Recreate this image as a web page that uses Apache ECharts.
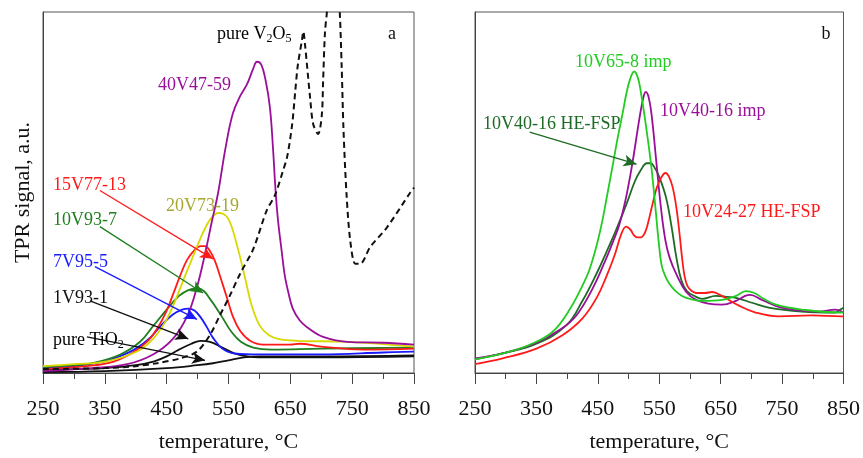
<!DOCTYPE html>
<html>
<head>
<meta charset="utf-8">
<script src="https://cdn.jsdelivr.net/npm/echarts@6/dist/echarts.min.js"></script>
<style>
html,body{margin:0;padding:0;background:#fff;}
#chart{width:863px;height:458px;}
</style>
</head>
<body>
<div id="chart"></div>
<script>
// ---- tick labels ----
const tickLabels = ['250', '350', '450', '550', '650', '750', '850'];

// ---- panel a (temperature °C, TPR signal a.u.) ----
const a_1V93_1 = [[250,3],[300,4],[350,5],[400,8],[430,12],[450,17],[470,24],[490,30],[505,33],[520,32],[540,26],[560,20],[580,17],[600,16],[700,16],[850,17]];
const a_TiO2 = [[250,1],[350,2],[450,5],[500,8],[525,10],[550,13],[575,16],[600,17],[700,17],[850,18]];
const a_7V95_5 = [[250,5],[300,7],[350,12],[370,16],[400,25],[423,36],[440,48],[460,60],[475,65],[485,66],[495,64],[505,57],[515,47],[525,36],[540,25],[560,20],[600,19],[700,19],[800,21],[850,22]];
const a_10V93_7 = [[250,6],[300,8],[330,10],[375,19],[407,32],[428,48],[450,65],[470,79],[485,85],[500,87],[510,84],[520,76],[530,67],[540,57],[555,42],[570,32],[590,26],[620,24],[700,25],[850,26]];
const a_15V77_13 = [[250,4],[300,6],[355,10],[390,19],[418,32],[436,47],[450,64],[460,80],[472,100],[483,116],[495,126],[505,130],[512,130],[520,125],[528,115],[536,100],[548,76],[557,58],[569,43],[585,33],[606,29],[650,29],[665,30],[700,27],[768,24],[850,25]];
const a_20V73_19 = [[250,7],[300,9],[353,12],[402,22],[428,35],[450,55],[465,76],[480,100],[493,120],[504,137],[515,152],[525,161],[533,164],[542,163],[552,155],[565,128],[577,97],[588,68],[601,48],[615,39],[630,35],[661,33],[742,32],[850,27]];
const a_40V47_59 = [[250,2],[330,5],[386,9],[428,19],[460,35],[483,58],[499,88],[512,122],[523,155],[533,184],[545,230],[557,266],[569,284],[580,296],[590,312],[596,319],[603,316],[610,300],[617,272],[622,230],[626,188],[630,157],[636,125],[641,100],[647,82],[654,66],[665,54],[677,47],[703,37],[742,32],[800,31],[850,29]];
const a_V2O5 = [[250,4],[350,5],[400,7],[434,10],[472,15],[499,22],[520,39],[536,59],[552,79],[569,102],[590,127],[612,167],[625,182],[638,207],[645,222],[653,255],[658,289],[662,315],[669,342],[671,350],[674,335],[682,282],[687,255],[695,245],[701,265],[703,299],[706,349],[709,369],[715,420],[725,420],[730,369],[733,315],[736,249],[741,182],[747,135],[755,112],[763,112],[779,129],[806,149],[844,185],[850,190]];

// ---- panel b ----
const b_10V65_8_imp = [[250,14],[295,20],[339,29],[376,42],[404,65],[432,99],[440,113],[449,133],[458,158],[466,185],[474,212],[482,240],[490,265],[497,288],[503,302],[509,309],[515,303],[520,288],[528,255],[537,212],[544,168],[549,135],[554,110],[560,99],[566,92],[575,85],[587,79],[600,76],[620,74],[652,75],[675,79],[691,84],[705,82],[720,76],[740,70],[782,65],[842,62],[850,62]];
const b_10V40_16_imp = [[250,15],[300,21],[350,31],[390,45],[415,59],[441,86],[460,112],[475,135],[485,152],[495,177],[506,214],[518,262],[524,282],[528,288],[533,282],[538,262],[545,218],[553,168],[560,136],[567,118],[578,101],[594,83],[610,75],[630,71],[652,70],[675,74],[690,79],[698,80],[717,75],[749,67],[809,63],[837,65],[850,62]];
const b_10V40_16_FSP = [[250,14],[295,20],[350,30],[399,49],[425,74],[448,102],[464,124],[480,147],[496,172],[510,196],[520,208],[530,215],[536,215],[542,211],[550,201],[561,180],[570,150],[578,118],[586,95],[595,84],[610,78],[620,76],[642,79],[660,78],[675,77],[701,72],[728,67],[782,63],[837,62],[845,65],[850,67]];
const b_10V24_27_FSP = [[250,9],[295,15],[350,25],[393,39],[425,56],[448,77],[464,99],[478,122],[488,142],[496,150],[503,147],[509,141],[514,139],[520,139],[526,143],[531,152],[539,173],[546,190],[553,200],[560,205],[566,201],[572,190],[578,169],[583,143],[587,119],[591,100],[596,89],[603,84],[610,82],[624,82],[636,83],[652,79],[680,69],[707,62],[745,58],[798,59],[847,58],[850,58]];

// ---- annotation arrows (data coords: [from],[to]) ----
const arrow15 = [[342,187],[525,117]];
const arrow10 = [[342,150],[509,82]];
const arrow7 = [[334,109],[499,55]];
const arrow1 = [[326,74],[485,35]];
const arrowTi = [[321,37],[512,13]];
const arrowB = [[339,247],[513,214]];

const FONT = '"Liberation Serif","Times New Roman",serif';
const chart = echarts.init(document.getElementById('chart'), null, {renderer:'canvas'});

function dataAxis(g){
  return {gridIndex:g, type:'value', min:250, max:850, interval:50, position:'bottom',
    axisLine:{show:true, lineStyle:{color:'#444', width:1}},
    axisTick:{show:true, length:6, lineStyle:{color:'#444'}},
    axisLabel:{show:false}, splitLine:{show:false}};
}
function labelAxis(g){
  return {gridIndex:g, type:'value', min:0, max:6, interval:1, position:'bottom',
    axisLine:{show:false},
    axisTick:{show:true, length:11, lineStyle:{color:'#444'}},
    axisLabel:{show:true, margin:25, fontSize:22, fontFamily:FONT, color:'#111',
      formatter:function(v){ return tickLabels[Math.round(v)] || ''; }},
    splitLine:{show:false},
    name:'temperature, °C', nameLocation:'middle', nameGap:58,
    nameTextStyle:{fontSize:22, fontFamily:FONT, color:'#111'}};
}
function yAx(g, withName){
  const o = {gridIndex:g, type:'value', min:0, max:370,
    axisLine:{show:true, lineStyle:{color:'#444'}}, axisTick:{show:false}, axisLabel:{show:false}, splitLine:{show:false}};
  if (withName){
    o.name = 'TPR signal, a.u.'; o.nameLocation = 'middle'; o.nameGap = 9;
    o.nameTextStyle = {fontSize:22, fontFamily:FONT, color:'#111'};
  }
  return o;
}
function arrowML(pair, color){
  return {silent:true, symbol:['none','arrow'], symbolSize:[9,13], animation:false,
    label:{show:false}, lineStyle:{color:color, width:1.3, type:'solid'},
    data:[[{coord:pair[0]},{coord:pair[1]}]]};
}
function line(data, color, xi, yi, extra){
  const s = {type:'line', data:data, xAxisIndex:xi, yAxisIndex:yi, showSymbol:false, smooth:0.4,
    clip:true, silent:true, animation:false,
    lineStyle:{color:color, width:1.8}, itemStyle:{color:color}, z:3};
  return Object.assign(s, extra||{});
}

const C = {red:'#ff1a1a', green:'#1f7f1f', blue:'#1a1aff', yellow:'#d8d800', purple:'#990f99', black:'#111',
  bgreen:'#22cc22', dgreen:'#1d6b24'};

const subRich = {
  a:{fontSize:18, fontFamily:FONT, color:'#111', lineHeight:22},
  s:{fontSize:12, fontFamily:FONT, color:'#111', lineHeight:12, verticalAlign:'bottom'}
};
function txt(x, y, text, color, align){
  return {type:'text', x:x, y:y, silent:true, z:10,
    style:{text:text, fill:color, font:'18px ' + FONT, textAlign:align||'left', textVerticalAlign:'middle'}};
}

chart.setOption({
  animation:false,
  backgroundColor:'#fff',
  grid:[
    {left:43, top:12, width:371, height:370, show:true, borderColor:'#555', borderWidth:1},
    {left:475, top:12, width:370, height:370, show:true, borderColor:'#555', borderWidth:1}
  ],
  xAxis:[dataAxis(0), labelAxis(0), dataAxis(1), labelAxis(1)],
  yAxis:[yAx(0,true), yAx(1,false)],
  series:[
    line(a_TiO2, C.black, 0, 0, {markLine:arrowML(arrowTi, C.black)}),
    line(a_1V93_1, C.black, 0, 0, {markLine:arrowML(arrow1, C.black)}),
    line(a_7V95_5, C.blue, 0, 0, {markLine:arrowML(arrow7, C.blue)}),
    line(a_10V93_7, C.green, 0, 0, {markLine:arrowML(arrow10, C.green)}),
    line(a_15V77_13, C.red, 0, 0, {markLine:arrowML(arrow15, C.red)}),
    line(a_20V73_19, C.yellow, 0, 0),
    line(a_40V47_59, C.purple, 0, 0),
    line(a_V2O5, C.black, 0, 0, {lineStyle:{color:C.black, width:2, type:[6,4]}, smooth:0.3}),
    line(b_10V40_16_FSP, C.dgreen, 2, 1, {markLine:arrowML(arrowB, C.dgreen)}),
    line(b_10V40_16_imp, C.purple, 2, 1),
    line(b_10V24_27_FSP, C.red, 2, 1),
    line(b_10V65_8_imp, C.bgreen, 2, 1)
  ],
  graphic:[
    {type:'text', x:217, y:34, silent:true, z:10,
      style:{text:'{a|pure V}{s|2}{a|O}{s|5}', rich:subRich, textAlign:'left', textVerticalAlign:'middle'}},
    txt(392, 34, 'a', '#111', 'center'),
    txt(158, 85, '40V47-59', C.purple),
    txt(53, 185, '15V77-13', C.red),
    txt(166, 206, '20V73-19', '#a8a830'),
    txt(53, 220, '10V93-7', C.green),
    txt(53, 262, '7V95-5', C.blue),
    txt(53, 298, '1V93-1', '#111'),
    {type:'text', x:53, y:340, silent:true, z:10,
      style:{text:'{a|pure TiO}{s|2}', rich:subRich, textAlign:'left', textVerticalAlign:'middle'}},
    txt(826, 34, 'b', '#111', 'center'),
    txt(575, 62, '10V65-8 imp', C.bgreen),
    txt(660, 111, '10V40-16 imp', C.purple),
    txt(483, 124, '10V40-16 HE-FSP', C.dgreen),
    txt(683, 212, '10V24-27 HE-FSP', C.red)
  ]
});
</script>
</body>
</html>
